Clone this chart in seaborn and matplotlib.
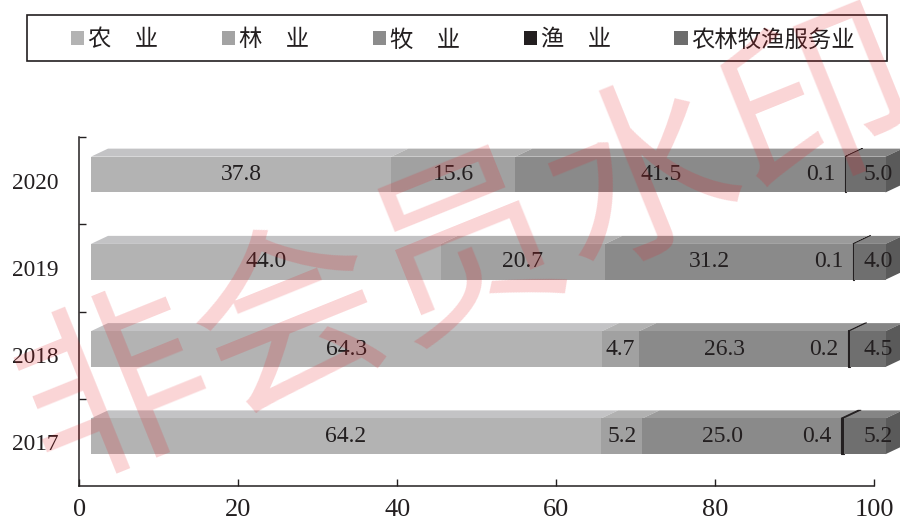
import matplotlib
matplotlib.use("Agg")
import matplotlib.pyplot as plt
from matplotlib.patches import Patch, Polygon, Rectangle
import numpy as np
import pandas as pd
import seaborn as sns

sns.set_theme(style="ticks")
plt.rcParams['font.family'] = ['Liberation Serif', 'Noto Sans CJK SC']

years = ['2017', '2018', '2019', '2020']
sectors = ['农\u3000业', '林\u3000业', '牧\u3000业', '渔\u3000业', '农林牧渔服务业']
farming = [64.2, 64.3, 44.0, 37.8]
forestry = [5.2, 4.7, 20.7, 15.6]
animal = [25.0, 26.3, 31.2, 41.5]
fishery = [0.4, 0.2, 0.1, 0.1]
service = [5.2, 4.5, 4.0, 5.0]

front_colors = ['#b3b3b3', '#a1a1a1', '#8a8a8a', '#231f20', '#6f6f6f']
top_colors = ['#c3c3c5', '#b1b1b1', '#9b9b9b', '#231f20', '#858585']
side_color = '#5a5a5a'
ink = '#231f20'

data = pd.DataFrame(dict(zip(sectors, [farming, forestry, animal, fishery, service])),
                    index=years)

fig = plt.figure(figsize=(9, 5.23), dpi=100)
ax = fig.add_axes([0.0883, 0.0707, 0.8828, 0.6673])

# fake 3d look: front face sits a bit right of the axis, top/side faces offset
shift = 1.45
bar_h = 0.41
lift = 0.07
dx, dy = 2.14, 0.092

ypos = np.arange(len(years))
left = np.zeros(len(years))
starts = {}
for sector, fc, tc in zip(sectors, front_colors, top_colors):
    vals = data[sector].to_numpy()
    lw = 0.8 if fc == ink else 0
    bars = ax.barh(ypos + lift, vals, left=left + shift, height=bar_h, color=fc,
                   edgecolor=fc, linewidth=lw, zorder=3)
    for b in bars:
        b.set_clip_on(False)
    for y, l, v in zip(ypos, left, vals):
        yt = y + lift + bar_h / 2
        x0, x1 = l + shift, l + v + shift
        ax.add_patch(Polygon([(x0, yt), (x1, yt), (x1 + dx, yt + dy), (x0 + dx, yt + dy)],
                             closed=True, fc=tc, ec=tc, lw=lw, zorder=2, clip_on=False))
    starts[sector] = left.copy()
    left = left + vals

for y, total in zip(ypos, left):
    xe = total + shift
    yb, yt = y + lift - bar_h / 2, y + lift + bar_h / 2
    ax.add_patch(Polygon([(xe, yb), (xe, yt), (xe + dx, yt + dy), (xe + dx, yb + dy)],
                         closed=True, fc=side_color, lw=0, zorder=2, clip_on=False))

# value labels
fs = 17
for i in ypos:
    yc = i + lift
    for sector in sectors[:2]:
        v = data[sector].iloc[i]
        ax.text(starts[sector][i] + shift + v / 2, yc, f'{v:.1f}', ha='center', va='center',
                fontsize=fs, color=ink, zorder=5)
    fish_x = starts[sectors[3]][i] + shift
    ax.text(fish_x - 1.2, yc, f'{data[sectors[3]].iloc[i]:.1f}', ha='right', va='center',
            fontsize=fs, color=ink, zorder=5)
    a0 = starts[sectors[2]][i] + shift
    ax.text((a0 + fish_x - 4.9) / 2, yc, f'{data[sectors[2]].iloc[i]:.1f}', ha='center',
            va='center', fontsize=fs, color=ink, zorder=5)
    ax.text(left[i] + shift + 0.9, yc, f'{data[sectors[4]].iloc[i]:.1f}', ha='right',
            va='center', fontsize=fs, color=ink, zorder=5, clip_on=False)

ax.set_xlim(0, 100)
ax.set_ylim(-0.5, len(years) - 0.5)
ax.set_xticks(np.arange(0, 101, 20))
ax.set_yticks(ypos, years)
ax.set_yticks(ypos + 0.5, minor=True)
ax.tick_params(axis='y', which='major', length=0, pad=15, labelsize=16.8, labelcolor=ink)
ax.tick_params(axis='y', which='minor', length=5, width=1, direction='in', color=ink)
ax.tick_params(axis='x', length=5, width=1, direction='in', color=ink, pad=9,
               labelsize=19, labelcolor=ink)
ax.set_xlabel('')
ax.set_ylabel('')
ax.set_facecolor('white')
sns.despine(ax=ax)
for side in ['left', 'bottom']:
    ax.spines[side].set_color(ink)
    ax.spines[side].set_linewidth(1.1)

# legend with a plain rectangular frame
handles = [Patch(facecolor=c, edgecolor='none') for c in
           ['#b3b3b3', '#a3a3a3', '#8c8c8c', ink, '#6d6d6d']]
fig.legend(handles, sectors, loc='center left', bbox_to_anchor=(71 / 900, 1 - 40 / 523),
           ncol=5, frameon=False, borderpad=0, borderaxespad=0, handlelength=0.56,
           handleheight=0.56, handletextpad=0.17, columnspacing=2.73,
           prop={'family': ['Noto Sans CJK SC'], 'size': 16.8}, labelcolor=ink)
fig.add_artist(Rectangle((27 / 900, 1 - 61 / 523), 860 / 900, 46 / 523, transform=fig.transFigure,
                         fill=False, ec=ink, lw=1.2))

# red watermark over everything
fig.text(0.52, 0.518, '非会员水印', fontsize=137, rotation=22, color='#e51c23', alpha=0.19,
         family=['Noto Sans CJK SC'], ha='center', va='center', zorder=10)

fig.savefig('out.png', dpi=100)
